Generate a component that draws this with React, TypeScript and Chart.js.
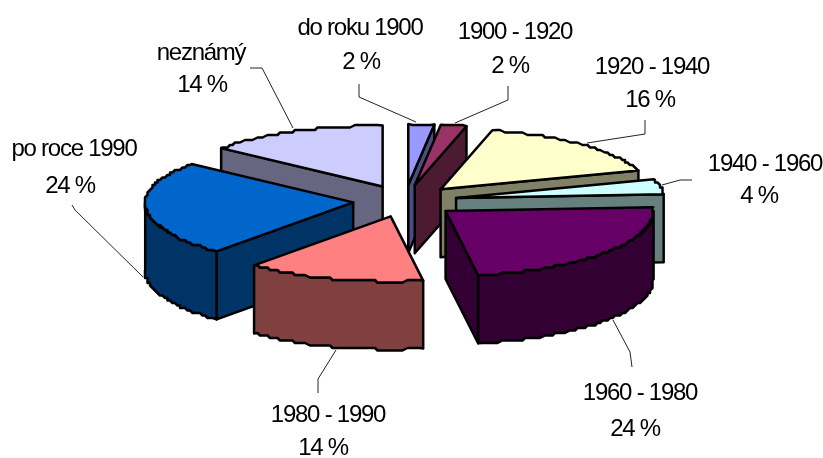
import React, { useEffect, useRef } from "react";
import { Chart, registerables } from "chart.js";

Chart.register(...registerables);

const categories = ["do roku 1900", "1900 - 1920", "1920 - 1940", "1940 - 1960", "1960 - 1980", "1980 - 1990", "po roce 1990", "neznámý"];
const shares = [2, 2, 16, 4, 23.5, 13.9, 24.45, 14.15];
const topColors = ["#9999FF", "#993366", "#FFFFCC", "#CCFFFF", "#660066", "#FF8080", "#0066CC", "#CCCCFF"];
const sideColors = ["#4D4D80", "#4D1A33", "#808066", "#668080", "#330033", "#804040", "#003366", "#666680"];

// label layout: centre of the name line, centre of the value line
const labelNameAt = [[360, 28], [515, 32], [652, 67], [765, 164], [640, 393], [328, 415], [74, 149], [201, 53]];
const labelValueAt = [[361, 62], [510, 66], [650, 100], [759, 196], [635, 429], [323, 448], [70, 186], [202, 85]];
const leaders = [
  [[359, 84], [359, 97], [416, 122]],
  [[508, 86], [508, 100], [455, 123]],
  [[645, 120], [645, 134], [587, 143]],
  [[662, 185], [680, 180], [692, 180]],
  [[613, 320], [630, 352], [632, 367]],
  [[336, 350], [318, 379], [318, 393]],
  [[143, 277], [75, 210], [72, 205]],
  [[293, 128], [262, 68], [250, 68]],
];

const RX = 208;
const RY_BACK = 61;
const RY_FRONT = 65;
const EXPLODE = 0.25;
const EXPLODE_Y = 16;
const DEPTH = 68;
const SNAP = 2.5;

const snap = (v: number) => Math.round(v / SNAP) * SNAP;

const pie3d = {
  id: "pie3d",
  beforeDatasetsDraw(chart: any) {
    const { ctx } = chart;
    const arcs = chart.getDatasetMeta(0).data.map((el: any, i: number) => {
      const s = el.startAngle + Math.PI / 2;
      const e = el.endAngle + Math.PI / 2;
      return { i, s, e, mid: (s + e) / 2, cx: el.x, cy: el.y };
    });
    arcs.sort((a: any, b: any) => Math.cos(b.mid) - Math.cos(a.mid));

    ctx.save();
    ctx.lineWidth = 2.5;
    ctx.lineJoin = "round";
    ctx.strokeStyle = "#000";

    const poly = (pts: number[][], fill: string) => {
      ctx.beginPath();
      pts.forEach((p, k) => (k ? ctx.lineTo(p[0], p[1]) : ctx.moveTo(p[0], p[1])));
      ctx.closePath();
      ctx.fillStyle = fill;
      ctx.fill();
      ctx.stroke();
    };

    for (const a of arcs) {
      const ox = a.cx + RX * EXPLODE * Math.sin(a.mid);
      const oy = a.cy - EXPLODE_Y * Math.cos(a.mid);
      const at = (t: number): number[] => {
        const c = Math.cos(t);
        return [ox + RX * Math.sin(t), oy - (c > 0 ? RY_BACK : RY_FRONT) * c];
      };
      const down = (p: number[]): number[] => [p[0], p[1] + DEPTH];
      const arcPts = (t0: number, t1: number) => {
        const n = Math.max(1, Math.ceil((t1 - t0) / 0.02));
        const out: number[][] = [];
        for (let k = 0; k <= n; k++) {
          const p = at(t0 + ((t1 - t0) * k) / n);
          out.push(k === 0 || k === n ? p : [snap(p[0]), snap(p[1])]);
        }
        return out;
      };
      const apex = [ox, oy];
      const side = sideColors[a.i];

      if (Math.cos(a.s - Math.PI / 2) < 0) {
        const p = at(a.s);
        poly([apex, p, down(p), down(apex)], side);
      }
      if (Math.cos(a.e + Math.PI / 2) < 0) {
        const p = at(a.e);
        poly([apex, p, down(p), down(apex)], side);
      }
      const w0 = Math.max(a.s, Math.PI / 2);
      const w1 = Math.min(a.e, (3 * Math.PI) / 2);
      if (w1 > w0) {
        const t = arcPts(w0, w1);
        poly([...t, ...t.slice().reverse().map(down)], side);
      }
      poly([apex, ...arcPts(a.s, a.e)], topColors[a.i]);
    }

    ctx.lineWidth = 1;
    ctx.strokeStyle = "#222";
    leaders.forEach((line) => {
      ctx.beginPath();
      line.forEach((p, k) => (k ? ctx.lineTo(p[0], p[1]) : ctx.moveTo(p[0], p[1])));
      ctx.stroke();
    });

    ctx.fillStyle = "#000";
    ctx.font = '24px "Liberation Sans"';
    ctx.letterSpacing = "-1.25px";
    ctx.textAlign = "center";
    ctx.textBaseline = "middle";
    categories.forEach((name, i) => {
      ctx.fillText(name, labelNameAt[i][0], labelNameAt[i][1]);
      ctx.fillText(`${Math.round(shares[i])} %`, labelValueAt[i][0], labelValueAt[i][1]);
    });
    ctx.restore();
    return false;
  },
};

export default function App() {
  const ref = useRef<HTMLCanvasElement>(null);
  useEffect(() => {
    document.body.style.margin = "0";
    const chart = new Chart(ref.current!, {
      type: "pie",
      data: {
        labels: categories,
        datasets: [{ data: shares, backgroundColor: topColors, borderWidth: 0 }],
      },
      options: {
        responsive: false,
        animation: false,
        layout: { padding: { left: 0, top: 0, right: 13, bottom: 56 } },
        plugins: { legend: { display: false }, tooltip: { enabled: false } },
      },
      plugins: [pie3d],
    } as any);
    return () => chart.destroy();
  }, []);
  return <canvas ref={ref} width={823} height={458} style={{ display: "block" }} />;
}
